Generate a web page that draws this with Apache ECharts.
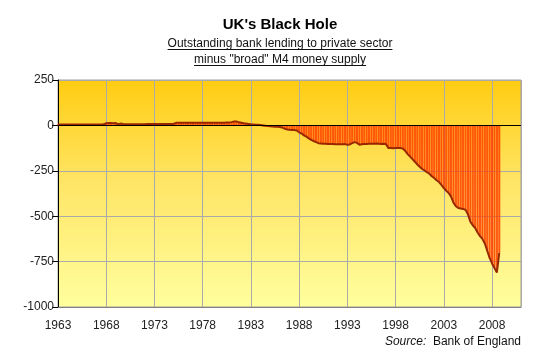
<!DOCTYPE html>
<html><head><meta charset="utf-8">
<script src="https://cdn.jsdelivr.net/npm/echarts@6/dist/echarts.min.js"></script>
<style>html,body{margin:0;padding:0;background:#fff}#c{width:550px;height:361px}</style>
</head><body><div id="c"></div>
<script>
// ---- data ----
const chartTitle = "UK's Black Hole";
const subtitleLines = ["Outstanding bank lending to private sector", 'minus "broad" M4 money supply'];
const sourceLabel = "Source:";
const sourceName = "Bank of England";
const firstYear = 1963;           // first quarter of the series
const periodsPerYear = 4;         // quarterly observations
const xTickYears = [1963, 1968, 1973, 1978, 1983, 1988, 1993, 1998, 2003, 2008];
const yTicks = [-1000, -750, -500, -250, 0, 250];
// bank lending minus M4, £bn, quarterly 1963Q1 .. 2008Q4
const values = [
  5, 5, 5, 5,         // 1963
  5, 5, 5, 5,         // 1964
  5, 5, 5, 5,         // 1965
  5, 5, 5, 5,         // 1966
  5, 5, 5, 6,         // 1967
  12, 13, 13, 12,     // 1968
  13, 6, 10, 8,       // 1969
  7, 7, 7, 7,         // 1970
  7, 7, 7, 7,         // 1971
  7, 8, 8, 8,         // 1972
  8, 8, 8, 8,         // 1973
  8, 8, 8, 8,         // 1974
  9, 14, 15, 15,      // 1975
  15, 15, 15, 15,     // 1976
  15, 15, 15, 15,     // 1977
  15, 15, 15, 15,     // 1978
  15, 15, 15, 15,     // 1979
  15, 15, 16, 16,     // 1980
  18, 22, 22, 17,     // 1981
  15, 12, 10, 8,      // 1982
  6, 5, 4, 3,         // 1983
  2, 0, -2, -4,       // 1984
  -5, -6, -7, -8,     // 1985
  -9, -12, -18, -22,  // 1986
  -24, -25, -26, -28, // 1987
  -38, -45, -55, -62, // 1988
  -72, -80, -86, -92, // 1989
  -98, -100, -101, -101,   // 1990
  -102, -102, -103, -104,  // 1991
  -104, -104, -104, -103,  // 1992
  -106, -105, -98, -92,    // 1993
  -96, -106, -104, -103,   // 1994
  -102, -101, -101, -101,  // 1995
  -100, -101, -102, -101,  // 1996
  -103, -124, -125, -126,  // 1997
  -125, -124, -124, -128,  // 1998
  -140, -158, -172, -186,  // 1999
  -200, -215, -228, -240,  // 2000
  -248, -258, -266, -280,  // 2001
  -290, -302, -312, -328,  // 2002
  -345, -360, -372, -392,  // 2003
  -425, -445, -455, -458,  // 2004
  -460, -465, -490, -530,  // 2005
  -550, -565, -590, -610,  // 2006
  -625, -650, -690, -730,  // 2007
  -760, -785, -810, -700   // 2008
];

// ---- chart ----
const FONT = "'Liberation Sans', Arial, sans-serif";
const points = values.map((v, i) => [firstYear + i / periodsPerYear, v]);

function textWidth(txt, font) {
  const ctx = document.createElement('canvas').getContext('2d');
  ctx.font = font;
  return ctx.measureText(txt).width;
}

const cx = 280;
const subFont = "12px " + FONT;
const graphics = [
  { type: 'text', x: cx, y: 25, style: { text: chartTitle, fill: '#000', font: "bold 15px " + FONT, textAlign: 'center', textVerticalAlign: 'middle' } }
];
subtitleLines.forEach((line, k) => {
  const yc = 44 + k * 16;
  const w = textWidth(line, subFont);
  graphics.push({ type: 'text', x: cx, y: yc, style: { text: line, fill: '#111', font: subFont, textAlign: 'center', textVerticalAlign: 'middle' } });
  graphics.push({ type: 'rect', shape: { x: cx - w / 2, y: yc + 5, width: w, height: 1 }, style: { fill: '#111' } });
});
graphics.push({
  type: 'text', x: 521, y: 342,
  style: {
    text: '{i|' + sourceLabel + '}  {n|' + sourceName + '}',
    textAlign: 'right', textVerticalAlign: 'middle',
    rich: {
      i: { font: "italic 12px " + FONT, fill: '#111' },
      n: { font: "12px " + FONT, fill: '#111' }
    }
  }
});

const chart = echarts.init(document.getElementById('c'), null, { renderer: 'canvas' });
chart.setOption({
  animation: false,
  backgroundColor: '#fff',
  grid: {
    left: 58, right: 29, top: 80, bottom: 54,
    show: true, borderColor: '#a0a0a0', borderWidth: 1,
    backgroundColor: new echarts.graphic.LinearGradient(0, 0, 0, 1, [
      { offset: 0, color: '#FFCC11' },
      { offset: 0.45, color: '#FFE566' },
      { offset: 1, color: '#FFFF9E' }
    ])
  },
  xAxis: {
    type: 'value', min: 1963, max: 2011, interval: 5,
    axisLine: { show: true, onZero: false, lineStyle: { color: '#808080' } },
    axisTick: { show: false },
    splitLine: { show: true, lineStyle: { color: '#aaaaaa', width: 1 } },
    axisLabel: {
      margin: 13, color: '#222', fontFamily: FONT, fontSize: 12,
      formatter: v => (xTickYears.indexOf(Math.round(v)) >= 0 && Math.abs(v - Math.round(v)) < 1e-6) ? String(Math.round(v)) : ''
    }
  },
  yAxis: {
    type: 'value', min: yTicks[0], max: yTicks[yTicks.length - 1], interval: 250,
    axisLine: { show: true, lineStyle: { color: '#000' } },
    axisTick: { show: true, length: 6, lineStyle: { color: '#000' } },
    splitLine: { show: true, lineStyle: { color: '#aaaaaa', width: 1 } },
    axisLabel: { margin: 4, color: '#222', fontFamily: FONT, fontSize: 12, formatter: v => String(v) }
  },
  series: [
    {
      type: 'bar', data: points, barWidth: 1.8, z: 2,
      itemStyle: { color: '#FF8A00', borderColor: '#FF2A00', borderWidth: 0.7 },
      markLine: {
        silent: true, symbol: 'none', label: { show: false },
        lineStyle: { color: '#000', width: 1, type: 'solid' },
        data: [{ yAxis: 0 }]
      }
    },
    {
      type: 'line', data: points, z: 3, showSymbol: false, symbol: 'none',
      lineStyle: { color: '#992800', width: 2 }
    }
  ],
  graphic: graphics
});
</script>
</body></html>
